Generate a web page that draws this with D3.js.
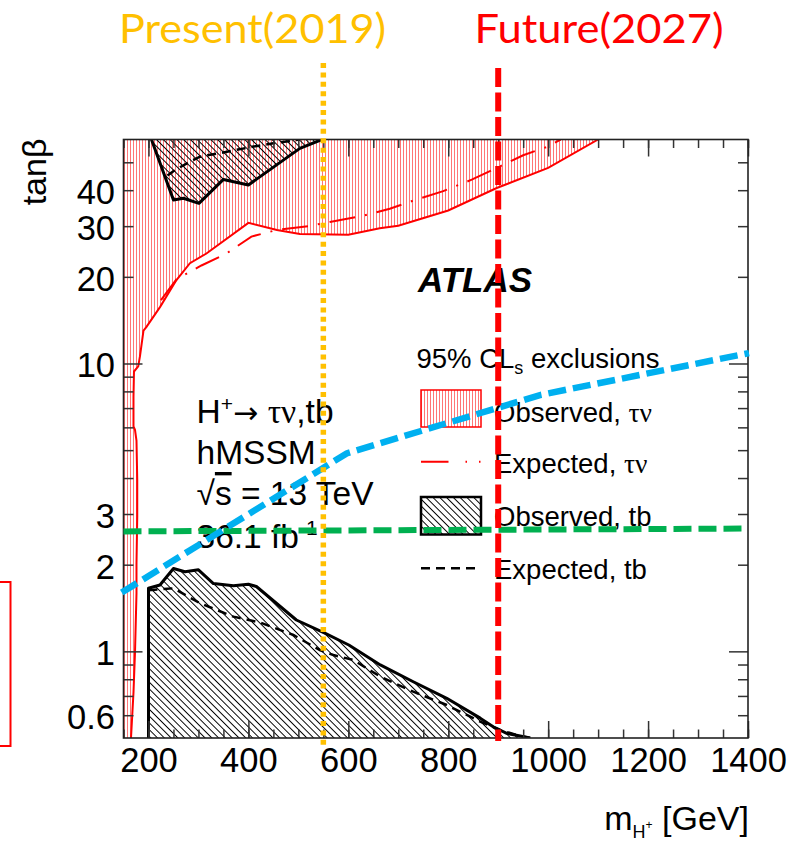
<!DOCTYPE html>
<html>
<head>
<meta charset="utf-8">
<script src="https://cdn.jsdelivr.net/npm/d3@7"></script>
<style>
  html, body { margin: 0; padding: 0; background: #ffffff; overflow: hidden; }
  svg { display: block; }
</style>
</head>
<body>
<svg id="chart" width="798" height="841"></svg>
<script>
// ---- axis ranges and tick labels ----
const massDomain = [150, 1400];
const tanbDomain = [0.5, 60];
const xTickLabels = [200, 400, 600, 800, 1000, 1200, 1400];
const yTickLabels = [0.6, 1, 2, 3, 10, 20, 30, 40];
const yMajorTicks = [1, 10];
const yMinorTicks = [0.6, 0.7, 0.8, 0.9, 2, 3, 4, 5, 6, 7, 8, 9, 20, 30, 40, 50];

// ---- H+ -> tau nu : observed exclusion contour (GeV, tan beta) ----
const tauObsMass = [165, 170, 173, 176, 176, 177.5, 177.5, 176, 173, 170, 170, 171, 179.5, 183, 190, 196, 223, 256, 283, 316, 400, 457, 503, 600, 663, 700, 800, 897, 1000, 1100];
const tauObsTanb = [0.5, 0.72, 0.99, 1.59, 2.02, 2.94, 3.93, 5.4, 5.88, 6.04, 7.68, 9.38, 9.77, 10.6, 13.0, 13.4, 15.7, 19.5, 22.3, 24.1, 30.8, 29.1, 28.2, 28.0, 29.5, 30.1, 34.0, 40.7, 47.8, 60];

// ---- H+ -> tau nu : expected exclusion contour ----
const tauExpMass = [225, 256, 306, 356, 406, 457, 520, 563, 630, 683, 740, 790, 847, 897, 950, 997, 1025];
const tauExpTanb = [16.6, 19.6, 21.9, 24.1, 27.6, 29.1, 30.0, 31.0, 32.6, 34.5, 37.3, 39.7, 43.5, 47.8, 52.9, 56.5, 60];

// ---- H+ -> tb : observed exclusion, low tan beta ----
const tbObsLowMass = [200, 200, 223, 250, 273, 300, 330, 370, 400, 416, 496, 553, 601, 664, 730, 797, 864, 890, 917, 964];
const tbObsLowTanb = [0.5, 1.656, 1.70, 1.94, 1.89, 1.92, 1.72, 1.69, 1.71, 1.68, 1.285, 1.156, 1.052, 0.897, 0.784, 0.687, 0.586, 0.547, 0.519, 0.5];

// ---- H+ -> tb : expected exclusion, low tan beta ----
const tbExpLowMass = [200, 250, 303, 370, 423, 490, 543, 570, 610, 664, 730, 797, 864, 904, 937, 964];
const tbExpLowTanb = [1.63, 1.656, 1.47, 1.32, 1.26, 1.14, 1.01, 0.971, 0.933, 0.817, 0.724, 0.651, 0.57, 0.533, 0.512, 0.5];

// ---- H+ -> tb : observed exclusion, high tan beta ----
const tbObsHighMass = [206, 250, 270, 301, 350, 400, 503, 547];
const tbObsHighTanb = [60, 37.0, 37.5, 36.0, 43.6, 41.7, 55.9, 60];

// ---- H+ -> tb : expected exclusion, high tan beta ----
const tbExpHighMass = [238, 253, 277, 303, 357, 410, 450, 503];
const tbExpHighTanb = [45, 47.0, 49.6, 52.3, 54.4, 56.7, 58.2, 60];

// ---- annotation lines drawn over the plot ----
const presentMass = 550, presentTanb = [0.473, 110.6];
const futureMass = 900, futureTanb = [0.488, 106.3];
const greenMass = [150, 1400], greenTanb = [2.61, 2.67];
const blueMass = [146.4, 596.7, 983.6, 1402], blueTanb = [1.60, 4.87, 7.77, 10.87];

const zip = (a, b) => a.map((v, i) => [v, b[i]]);

const svg = d3.select('#chart');
const plot = { left: 123.5, right: 748, top: 139.5, bottom: 738 };
const x = d3.scaleLinear().domain(massDomain).range([plot.left, plot.right]);
const y = d3.scaleLog().domain(tanbDomain).range([plot.bottom, plot.top]);
const line = d3.line().x(d => x(d[0])).y(d => y(d[1]));

const SANS = "'Liberation Sans', Arial, Helvetica, sans-serif";
const SERIF = "'Liberation Serif', 'Times New Roman', serif";

// ---- patterns and clipping ----
const defs = svg.append('defs');
const redHatch = defs.append('pattern').attr('id', 'redHatch')
  .attr('patternUnits', 'userSpaceOnUse').attr('width', 3).attr('height', 10);
redHatch.append('line').attr('x1', 1.5).attr('x2', 1.5).attr('y1', 0).attr('y2', 10)
  .attr('stroke', '#ff1a1a').attr('stroke-width', 1).attr('stroke-opacity', 0.6);

const blackHatch = defs.append('pattern').attr('id', 'blackHatch')
  .attr('patternUnits', 'userSpaceOnUse').attr('width', 4.8).attr('height', 10)
  .attr('patternTransform', 'rotate(-45)');
blackHatch.append('line').attr('x1', 2.4).attr('x2', 2.4).attr('y1', 0).attr('y2', 10)
  .attr('stroke', '#000').attr('stroke-width', 1);

defs.append('clipPath').attr('id', 'plotClip').append('rect')
  .attr('x', plot.left).attr('y', plot.top)
  .attr('width', plot.right - plot.left).attr('height', plot.bottom - plot.top);

const g = svg.append('g').attr('clip-path', 'url(#plotClip)');

// tau nu observed region: contour closed through the upper-left corner
const tauObs = zip(tauObsMass, tauObsTanb);
const tauRegion = [[massDomain[0], tanbDomain[0]], ...tauObs, [massDomain[0], tanbDomain[1]]];
g.append('path').attr('d', line(tauRegion) + 'Z').attr('fill', 'url(#redHatch)').attr('stroke', 'none');
g.append('path').attr('d', line(tauObs)).attr('fill', 'none').attr('stroke', '#ff0000').attr('stroke-width', 2);
g.append('path').attr('d', line(zip(tauExpMass, tauExpTanb))).attr('fill', 'none')
  .attr('stroke', '#ff0000').attr('stroke-width', 2).attr('stroke-dasharray', '26,10,2,10');

// tb regions
const tbLow = zip(tbObsLowMass, tbObsLowTanb);
const tbHigh = zip(tbObsHighMass, tbObsHighTanb);
g.append('path').attr('d', line(tbLow) + 'Z').attr('fill', 'url(#blackHatch)');
g.append('path').attr('d', line(tbHigh) + 'Z').attr('fill', 'url(#blackHatch)');
g.append('path').attr('d', line(zip(tbExpLowMass, tbExpLowTanb))).attr('fill', 'none')
  .attr('stroke', '#000').attr('stroke-width', 2.5).attr('stroke-dasharray', '9,6');
g.append('path').attr('d', line(zip(tbExpHighMass, tbExpHighTanb))).attr('fill', 'none')
  .attr('stroke', '#000').attr('stroke-width', 2.5).attr('stroke-dasharray', '9,6');
g.append('path').attr('d', line(tbLow)).attr('fill', 'none').attr('stroke', '#000').attr('stroke-width', 3).attr('stroke-linejoin', 'round');
g.append('path').attr('d', line(tbHigh)).attr('fill', 'none').attr('stroke', '#000').attr('stroke-width', 3).attr('stroke-linejoin', 'round');

// ---- axes (ticks point into the frame on all four sides) ----
const xMinor = d3.range(150, 1401, 50);
function tickAxis(axis, transform, values, size) {
  svg.append('g').attr('transform', transform)
    .call(axis.tickValues(values).tickSize(size).tickFormat(''))
    .call(s => s.select('.domain').remove())
    .call(s => s.selectAll('.tick line').attr('stroke', '#333').attr('stroke-width', 1.5));
}
tickAxis(d3.axisBottom(x), `translate(0,${plot.bottom})`, xMinor, -8.5);
tickAxis(d3.axisBottom(x), `translate(0,${plot.bottom})`, xTickLabels, -17);
tickAxis(d3.axisTop(x), `translate(0,${plot.top})`, xMinor, -8.5);
tickAxis(d3.axisTop(x), `translate(0,${plot.top})`, xTickLabels, -17);
tickAxis(d3.axisLeft(y), `translate(${plot.left},0)`, yMinorTicks, -10);
tickAxis(d3.axisLeft(y), `translate(${plot.left},0)`, yMajorTicks, -19);
tickAxis(d3.axisRight(y), `translate(${plot.right},0)`, yMinorTicks, -10);
tickAxis(d3.axisRight(y), `translate(${plot.right},0)`, yMajorTicks, -19);

svg.append('g').attr('transform', `translate(0,${plot.bottom})`)
  .call(d3.axisBottom(x).tickValues(xTickLabels).tickSize(0).tickPadding(10).tickFormat(d => String(d)))
  .call(s => s.select('.domain').remove())
  .call(s => s.selectAll('text').attr('font-family', SANS).attr('font-size', 34.5).attr('fill', '#000'));

svg.append('g').attr('transform', `translate(${plot.left},0)`)
  .call(d3.axisLeft(y).tickValues(yTickLabels).tickSize(0).tickPadding(8.5).tickFormat(d => String(d)))
  .call(s => s.select('.domain').remove())
  .call(s => s.selectAll('text').attr('font-family', SANS).attr('font-size', 34.5).attr('fill', '#000').attr('dy', '0.39em'));

svg.append('rect').attr('x', plot.left).attr('y', plot.top)
  .attr('width', plot.right - plot.left).attr('height', plot.bottom - plot.top)
  .attr('fill', 'none').attr('stroke', '#222').attr('stroke-width', 1.6);

// axis titles
svg.append('text').attr('transform', 'translate(46,138.5) rotate(-90)')
  .attr('text-anchor', 'end').attr('font-family', SANS).attr('font-size', 34).text('tanβ');

const xt = svg.append('text').attr('x', 749).attr('y', 830).attr('text-anchor', 'end')
  .attr('font-family', SANS).attr('font-size', 34);
xt.append('tspan').text('m');
xt.append('tspan').attr('font-size', 18).attr('dy', 8).text('H');
xt.append('tspan').attr('font-size', 12).attr('dy', -9).text('+');
xt.append('tspan').attr('dy', 1).text(' [GeV]');

// ATLAS label and analysis description
svg.append('text').attr('x', 418).attr('y', 291.5).attr('font-family', SANS)
  .attr('font-size', 35).attr('font-weight', 'bold').attr('font-style', 'italic').text('ATLAS');

const t1 = svg.append('text').attr('x', 196.5).attr('y', 422.5).attr('font-family', SANS).attr('font-size', 33.5);
t1.append('tspan').text('H');
t1.append('tspan').attr('font-size', 21).attr('dy', -12).text('+');
t1.append('tspan').attr('dy', 12).attr('font-family', "'DejaVu Sans', sans-serif").attr('font-size', 30).text('→ ');
t1.append('tspan').attr('font-family', SERIF).text('τν');
t1.append('tspan').text(',tb');

svg.append('text').attr('x', 196.5).attr('y', 464).attr('font-family', SANS).attr('font-size', 33.5).text('hMSSM');

const t3 = svg.append('text').attr('x', 196.5).attr('y', 505).attr('font-family', SANS).attr('font-size', 33.5);
t3.append('tspan').text('√');
t3.append('tspan').style('text-decoration', 'overline').text('s');
t3.append('tspan').text(' = 13 TeV');

const t4 = svg.append('text').attr('x', 196.5).attr('y', 548).attr('font-family', SANS).attr('font-size', 33.5);
t4.append('tspan').text('36.1 fb');
t4.append('tspan').attr('font-size', 21).attr('dy', -13).text('-1');

// ---- legend ----
const lg = svg.append('g').attr('font-family', SANS).attr('font-size', 27.5);
const lh = lg.append('text').attr('x', 416.5).attr('y', 368);
lh.append('tspan').text('95% CL');
lh.append('tspan').attr('font-size', 18).attr('dy', 6).text('s');
lh.append('tspan').attr('dy', -6).text(' exclusions');

lg.append('rect').attr('x', 421).attr('y', 390).attr('width', 60).attr('height', 37)
  .attr('fill', 'url(#redHatch)').attr('stroke', '#ff0000').attr('stroke-width', 1.5);
const e1 = lg.append('text').attr('x', 494).attr('y', 421.5);
e1.append('tspan').text('Observed, ');
e1.append('tspan').attr('font-family', SERIF).text('τν');

lg.append('line').attr('x1', 421).attr('x2', 481).attr('y1', 461.7).attr('y2', 461.7)
  .attr('stroke', '#ff0000').attr('stroke-width', 2).attr('stroke-dasharray', '27.5,17,1.5,12,1.5,100');
const e2 = lg.append('text').attr('x', 494).attr('y', 473.3);
e2.append('tspan').text('Expected, ');
e2.append('tspan').attr('font-family', SERIF).text('τν');

lg.append('rect').attr('x', 421).attr('y', 497).attr('width', 60).attr('height', 37.5)
  .attr('fill', 'url(#blackHatch)').attr('stroke', '#000').attr('stroke-width', 2.5);
lg.append('text').attr('x', 494).attr('y', 525.5).text('Observed, tb');

lg.append('line').attr('x1', 421).attr('x2', 481).attr('y1', 568.3).attr('y2', 568.3)
  .attr('stroke', '#000').attr('stroke-width', 2.5).attr('stroke-dasharray', '9,6');
lg.append('text').attr('x', 494).attr('y', 579).text('Expected, tb');

// ---- overlay: reach lines and timeline markers ----
const ov = svg.append('g').attr('fill', 'none');
ov.append('path').attr('d', line(zip(greenMass, greenTanb)))
  .attr('stroke', '#00b050').attr('stroke-width', 6).attr('stroke-dasharray', '18,7');
ov.append('path').attr('d', line(zip(blueMass, blueTanb)))
  .attr('stroke', '#00b0f0').attr('stroke-width', 6.5).attr('stroke-dasharray', '18,7');
ov.append('line').attr('x1', x(presentMass)).attr('x2', x(presentMass))
  .attr('y1', y(presentTanb[1])).attr('y2', y(presentTanb[0]))
  .attr('stroke', '#ffc000').attr('stroke-width', 5.5).attr('stroke-dasharray', '5,4.4');
ov.append('line').attr('x1', x(futureMass)).attr('x2', x(futureMass))
  .attr('y1', y(futureTanb[1])).attr('y2', y(futureTanb[0]))
  .attr('stroke', '#ff0000').attr('stroke-width', 6).attr('stroke-dasharray', '19,5.5');

// highlight box at the left edge
svg.append('rect').attr('x', -5).attr('y', 582).attr('width', 15.5).attr('height', 164)
  .attr('fill', 'none').attr('stroke', '#ff0000').attr('stroke-width', 2);

// timeline labels
svg.append('text').attr('x', 119).attr('y', 42.7).attr('font-family', "Lato, 'Open Sans', sans-serif")
  .attr('font-size', 41).attr('fill', '#ffc000')
  .attr('textLength', 267).attr('lengthAdjust', 'spacingAndGlyphs').text('Present(2019)');
svg.append('text').attr('x', 474.5).attr('y', 42.7).attr('font-family', "Lato, 'Open Sans', sans-serif")
  .attr('font-size', 41).attr('fill', '#ff0000')
  .attr('textLength', 249).attr('lengthAdjust', 'spacingAndGlyphs').text('Future(2027)');
</script>
</body>
</html>
